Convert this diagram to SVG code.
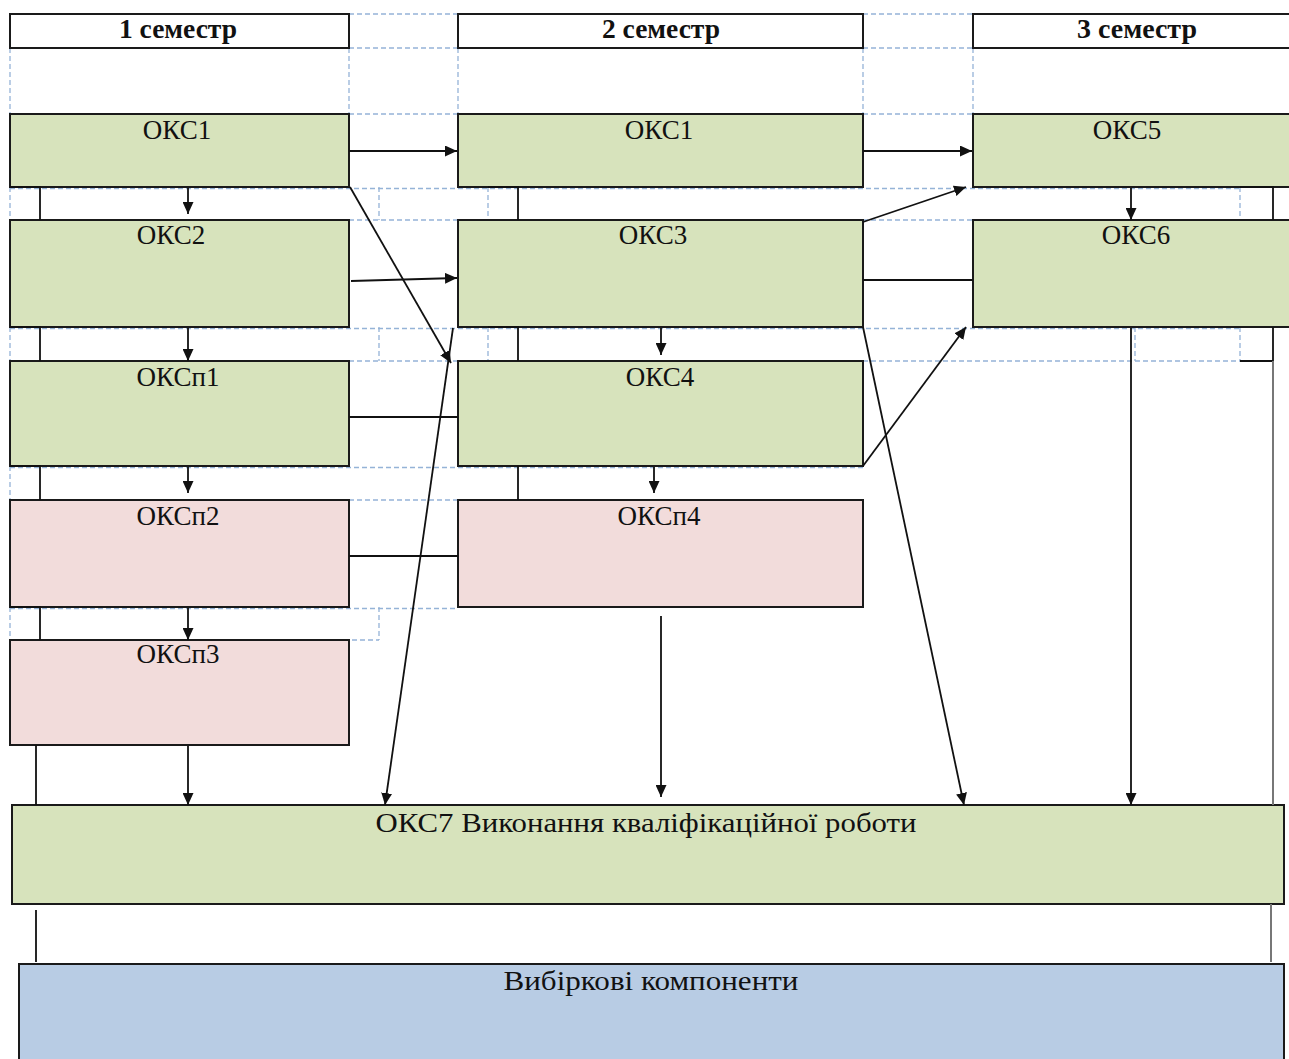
<svg xmlns="http://www.w3.org/2000/svg" width="1289" height="1059" viewBox="0 0 1289 1059">
<style>
.box{stroke:#1a1a1a;stroke-width:2}
.g{fill:#d7e3bc}
.p{fill:#f2dcdb}
.b{fill:#b8cce4}
.w{fill:#ffffff}
.dash{fill:none;stroke:#95b3d7;stroke-width:1.3;stroke-dasharray:5 3}
.ln{fill:none;stroke:#111;stroke-width:1.8}
.gray{fill:none;stroke:#777;stroke-width:2}
.arr{fill:none;stroke:#111;stroke-width:1.8;marker-end:url(#ah)}
.t{font-family:"Liberation Serif","Times New Roman",serif;font-size:27px;fill:#111;text-anchor:middle}
.h{font-weight:bold;font-size:27px}
</style>
<defs>
<marker id="ah" markerUnits="userSpaceOnUse" markerWidth="12" markerHeight="11" refX="12" refY="5.5" orient="auto">
<path d="M0,0 L12,5.5 L0,11 z" fill="#111"/>
</marker>
</defs>
<rect width="1289" height="1059" fill="#ffffff"/>
<g id="grid">
<path class="dash" d="M349 14 H458 M863 14 H973 M349 48 H458 M863 48 H973 M349 114 H458 M863 114 H973 M10 188.5 H1240 M349 220 H458 M863 220 H973 M10 328.5 H1240 M349 361 H458 M863 361 H1240 M10 467.5 H863 M349 500 H458 M10 608.5 H458 M40 640 H379 M10 48 V114 M349 48 V114 M458 48 V114 M863 48 V114 M973 48 V114 M10 187 V220 M379 187 V220 M488 187 V220 M1240 187 V220 M10 327 V361 M379 327 V361 M488 327 V361 M1135 327 V361 M1240 327 V361 M10 466 V500 M10 607 V640 M379 607 V640"/>
</g>
<g id="sem1"><rect class="box w" x="10" y="14" width="339" height="34"/><text class="t h" x="178" y="38" textLength="118" lengthAdjust="spacingAndGlyphs">1 семестр</text></g>
<g id="sem2"><rect class="box w" x="458" y="14" width="405" height="34"/><text class="t h" x="661" y="38" textLength="118" lengthAdjust="spacingAndGlyphs">2 семестр</text></g>
<g id="sem3"><rect class="box w" x="973" y="14" width="330" height="34"/><text class="t h" x="1137" y="38" textLength="120" lengthAdjust="spacingAndGlyphs">3 семестр</text></g>
<g id="oks1a"><rect class="box g" x="10" y="114" width="339" height="73"/><text class="t" x="177" y="139">ОКС1</text></g>
<g id="oks2"><rect class="box g" x="10" y="220" width="339" height="107"/><text class="t" x="171" y="244">ОКС2</text></g>
<g id="oksp1"><rect class="box g" x="10" y="361" width="339" height="105"/><text class="t" x="178" y="386">ОКСп1</text></g>
<g id="oksp2"><rect class="box p" x="10" y="500" width="339" height="107"/><text class="t" x="178" y="525">ОКСп2</text></g>
<g id="oksp3"><rect class="box p" x="10" y="640" width="339" height="105"/><text class="t" x="178" y="663">ОКСп3</text></g>
<g id="oks1b"><rect class="box g" x="458" y="114" width="405" height="73"/><text class="t" x="659" y="139">ОКС1</text></g>
<g id="oks3"><rect class="box g" x="458" y="220" width="405" height="107"/><text class="t" x="653" y="244">ОКС3</text></g>
<g id="oks4"><rect class="box g" x="458" y="361" width="405" height="105"/><text class="t" x="660" y="386">ОКС4</text></g>
<g id="oksp4"><rect class="box p" x="458" y="500" width="405" height="107"/><text class="t" x="659" y="525">ОКСп4</text></g>
<g id="oks5"><rect class="box g" x="973" y="114" width="330" height="73"/><text class="t" x="1127" y="139">ОКС5</text></g>
<g id="oks6"><rect class="box g" x="973" y="220" width="330" height="107"/><text class="t" x="1136" y="244">ОКС6</text></g>
<g id="oks7"><rect class="box g" x="12" y="805" width="1272" height="99"/><text class="t" x="646" y="832" textLength="541" lengthAdjust="spacingAndGlyphs">ОКС7 Виконання кваліфікаційної роботи</text></g>
<g id="vib"><rect class="box b" x="19" y="964" width="1265" height="110"/><text class="t" x="651" y="990" textLength="295" lengthAdjust="spacingAndGlyphs">Вибіркові компоненти</text></g>
<g id="connectors">
<path class="ln" d="M10 187 H40 V220 M10 327 H40 V361 M10 466 H40 V500 M10 607 H40 V640 M488 187 H518 V220 M488 327 H518 V361 M518 466 V500 M1240 187 H1273 V220 M1273 327 V361 H1240 M349 417 H458 M349 556 H458 M863 280 H973 M36 745 V805 M36 910 V962"/>
<path class="gray" d="M1273 361 V805 M1271 904 V962"/>
<path class="arr" d="M349 151 H457"/>
<path class="arr" d="M863 151 H972"/>
<path class="arr" d="M188 188 V214"/>
<path class="arr" d="M188 328 V361"/>
<path class="arr" d="M188 467 V493"/>
<path class="arr" d="M188 608 V640"/>
<path class="arr" d="M188 746 V805"/>
<path class="arr" d="M351 281 L457 278"/>
<path class="arr" d="M350 187 L451 363"/>
<path class="arr" d="M453 328 L385 805"/>
<path class="arr" d="M863 222 L966 187"/>
<path class="arr" d="M863 466 L966 327"/>
<path class="arr" d="M863 327 L964 805"/>
<path class="arr" d="M1131 188 V220"/>
<path class="arr" d="M1131 328 V805"/>
<path class="arr" d="M661 328 V355"/>
<path class="arr" d="M654 467 V493"/>
<path class="arr" d="M661 616 V797"/>
</g>
</svg>
